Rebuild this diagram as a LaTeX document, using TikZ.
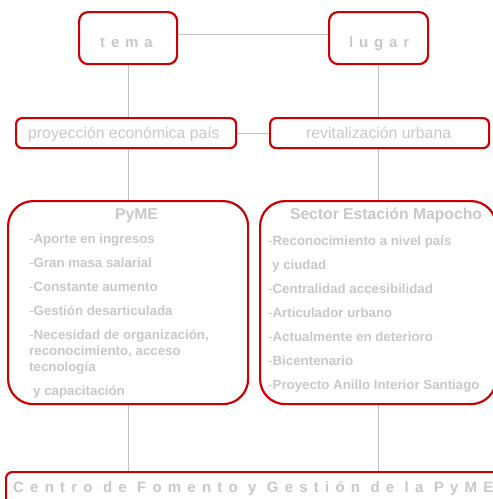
\documentclass[tikz,border=0pt]{standalone}
\usepackage{fontspec}
\setmainfont{Liberation Sans}
\newfontfamily\spacedtop[LetterSpace=39]{Liberation Sans}
\newfontfamily\spacedbot[LetterSpace=41.5]{Liberation Sans}
\definecolor{redb}{RGB}{204,0,0}
\definecolor{txtg}{RGB}{200,200,200}
\definecolor{ling}{RGB}{192,192,192}
\tikzset{
  box/.style={draw=redb, line width=2.2pt, rectangle, inner sep=0pt, anchor=north west, fill=white},
  conn/.style={draw=ling, line width=1.1pt},
  tx/.style={text=txtg, inner sep=0pt, anchor=base west},
  item/.style={tx, font=\fontsize{13.3}{16}\selectfont\bfseries},
  ttl/.style={text=txtg, inner sep=0pt, anchor=base, font=\fontsize{15.7}{18}\selectfont\bfseries},
  big/.style={tx, font=\fontsize{15.8}{18}\selectfont},
}
\begin{document}
\begin{tikzpicture}[x=1pt,y=-1pt]
\useasboundingbox (0,0) rectangle (493,499);
\clip (0,0) rectangle (493,499);
% boxes
\node[box, rounded corners=9pt, minimum width=98pt, minimum height=52pt] (tema) at (78,11) {};
\node[box, rounded corners=9pt, minimum width=99pt, minimum height=52pt] (lugar) at (328,11) {};
\node[box, rounded corners=6pt, minimum width=220pt, minimum height=30pt] (proy) at (15,117) {};
\node[box, rounded corners=6pt, minimum width=219pt, minimum height=30pt] (revit) at (269,117) {};
\node[box, rounded corners=25pt, minimum width=240pt, minimum height=203pt] (pyme) at (7,200) {};
\node[box, rounded corners=25pt, minimum width=236pt, minimum height=203pt] (sector) at (259,200) {};
\node[box, rounded corners=6pt, minimum width=520pt, minimum height=50pt] (centro) at (5,471) {};
% connectors
\draw[conn] ([yshift=4pt]tema.east) -- ([yshift=4pt]lugar.west);
\draw[conn] (tema.south) -- (tema.south |- proy.north);
\draw[conn] (lugar.south) -- (lugar.south |- revit.north);
\draw[conn] (proy.east) -- (revit.west);
\draw[conn] (pyme.north |- proy.south) -- (pyme.north);
\draw[conn] (sector.north |- revit.south) -- (sector.north);
\draw[conn] (pyme.south) -- (pyme.south |- centro.north);
\draw[conn] (sector.south) -- (sector.south |- centro.north);
% texts
\node[tx, font=\fontsize{15}{18}\selectfont\bfseries\spacedtop] (ttema) at (100,47) {tema};
\node[tx, font=\fontsize{15}{18}\selectfont\bfseries\spacedtop] (tlugar) at (349,47) {lugar};
\node[big] (tproy) at (28,138) {proyección económica país};
\node[big] (trevit) at (306,138) {revitalización urbana};
\node[ttl] (tpyme) at (136.5,219) {PyME};
\node[ttl] (tsector) at (386,219) {Sector Estación Mapocho};
\node[item] (p1) at (29,243) {\textmd{-}Aporte en ingresos};
\node[item] (p2) at (29,267) {\textmd{-}Gran masa salarial};
\node[item] (p3) at (29,291) {\textmd{-}Constante aumento};
\node[item] (p4) at (29,315) {\textmd{-}Gestión desarticulada};
\node[item] (p5) at (29,339) {\textmd{-}Necesidad de organización,};
\node[item] (p6) at (29,355) {reconocimiento, acceso};
\node[item] (p7) at (29,371) {tecnología};
\node[item] (p8) at (33,395) {y capacitación};
\node[item] (s1) at (268,245) {\textmd{-}Reconocimiento a nivel país};
\node[item] (s2) at (272,269) {y ciudad};
\node[item] (s3) at (268,293) {\textmd{-}Centralidad accesibilidad};
\node[item] (s4) at (268,317) {\textmd{-}Articulador urbano};
\node[item] (s5) at (268,341) {\textmd{-}Actualmente en deterioro};
\node[item] (s6) at (268,365) {\textmd{-}Bicentenario};
\node[item] (s7) at (268,389) {\textmd{-}Proyecto Anillo Interior Santiago};
\node[tx, font=\fontsize{15}{18}\selectfont\bfseries\spacedbot] (tcentro) at (13,492) {Centro de Fomento y Gestión de la PyME};
\end{tikzpicture}
\end{document}
